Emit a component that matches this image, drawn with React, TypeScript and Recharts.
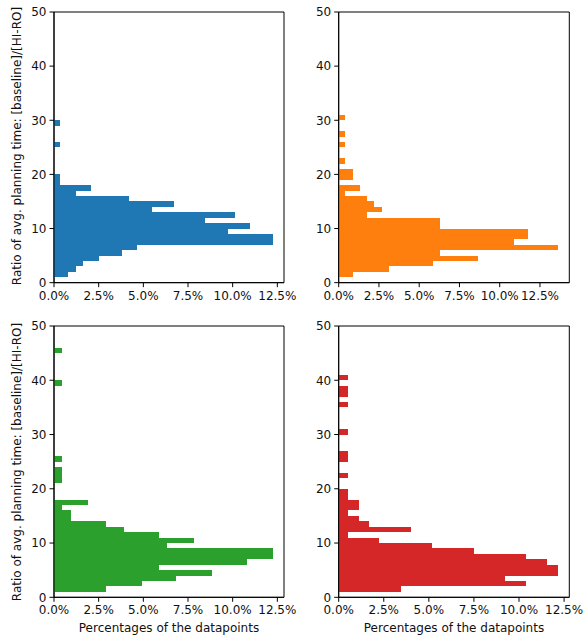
import React from 'react';
import { BarChart, Bar, XAxis, YAxis, ReferenceArea } from 'recharts';

// Histogram bins: first bin starts at ratio 1, each bin is 1 unit wide
const BIN_START = 1;
const BIN_WIDTH = 1;
const Y_MAX = 50;

const blueValues = [
  0.8, 1.23, 1.64, 2.5, 3.79, 4.63, 12.26, 12.26, 9.72, 10.95, 8.43, 10.11, 5.49, 6.72, 4.18, 1.23, 2.05, 0.35, 0.35,
  0, 0, 0, 0, 0, 0.35, 0, 0, 0, 0.35,
];
const orangeValues = [
  0.89, 3.15, 5.87, 8.63, 6.31, 13.64, 10.87, 11.78, 11.78, 6.31, 6.31, 1.78, 2.66, 2.22, 1.78, 0.39, 1.33, 0, 0.89,
  0.89, 0, 0.39, 0, 0, 0.39, 0, 0.39, 0, 0, 0.39,
];
const greenValues = [
  2.91, 4.91, 6.83, 8.82, 5.9, 10.78, 12.26, 12.26, 6.34, 7.84, 5.9, 3.92, 2.91, 0.95, 0.95, 0.47, 1.92, 0, 0, 0,
  0.47, 0.47, 0.47, 0, 0.47, 0, 0, 0, 0, 0, 0, 0, 0, 0, 0, 0, 0, 0, 0.47, 0, 0, 0, 0, 0, 0.47,
];
const redValues = [
  3.46, 10.41, 9.24, 12.18, 12.18, 11.56, 10.41, 7.52, 5.2, 2.26, 0.54, 4.0, 1.67, 1.13, 0.54, 1.13, 1.13, 0.54, 0.54,
  0, 0, 0.54, 0, 0, 0.54, 0.54, 0, 0, 0, 0.54, 0, 0, 0, 0, 0.54, 0, 0.54, 0.54, 0, 0.54,
];

const xTicks = [0, 2.5, 5, 7.5, 10, 12.5];
const yTicks = [0, 10, 20, 30, 40, 50];

const Y_LABEL = 'Ratio of avg. planning time: [baseline]/[HI-RO]';
const X_LABEL = 'Percentages of the datapoints';

const FONT = "'DejaVu Sans', sans-serif";

const toData = (values: number[]) =>
  values.map((v, i) => ({ y: BIN_START + i * BIN_WIDTH + BIN_WIDTH / 2, pct: v }));

type PanelProps = {
  values: number[];
  color: string;
  left: number;
  top: number;
  width: number;
  height: number;
  margin: { top: number; right: number; bottom: number; left: number };
  yAxisWidth: number;
  xAxisHeight: number;
};

const tickStyle = { fontSize: 12, fill: '#111', fontFamily: FONT };

function Panel({ values, color, left, top, width, height, margin, yAxisWidth, xAxisHeight }: PanelProps) {
  const data = toData(values);
  const plotHeight = height - margin.top - margin.bottom - xAxisHeight;
  const barPx = (plotHeight / Y_MAX) * BIN_WIDTH - 0.002;
  return (
    <div style={{ position: 'absolute', left, top, width, height }}>
      <BarChart
        width={width}
        height={height}
        data={data}
        layout="vertical"
        margin={margin}
        barCategoryGap={0}
        barGap={0}
      >
        <XAxis
          type="number"
          domain={[0, (max: number) => max * 1.05]}
          ticks={xTicks}
          interval={0}
          tickFormatter={(v: number) => `${v.toFixed(1)}%`}
          tick={tickStyle}
          tickSize={4.5}
          tickMargin={4}
          height={xAxisHeight}
          stroke="#000"
          axisLine={{ stroke: '#000', strokeWidth: 1 }}
          tickLine={{ stroke: '#000', strokeWidth: 1 }}
        />
        <YAxis
          type="number"
          dataKey="y"
          domain={[0, Y_MAX]}
          ticks={yTicks}
          interval={0}
          reversed
          tick={tickStyle}
          tickSize={4.5}
          tickMargin={3}
          width={yAxisWidth}
          stroke="#000"
          axisLine={{ stroke: '#000', strokeWidth: 1 }}
          tickLine={{ stroke: '#000', strokeWidth: 1 }}
        />
        <Bar
          dataKey="pct"
          fill={color}
          barSize={barPx}
          shapeRendering="crispEdges"
          isAnimationActive={false}
        />
        <ReferenceArea y1={0} y2={Y_MAX} fill="none" stroke="#000" strokeWidth={1} fillOpacity={0} />
      </BarChart>
    </div>
  );
}

const textStyle: React.CSSProperties = {
  position: 'absolute',
  fontFamily: FONT,
  fontSize: 12,
  lineHeight: '14px',
  color: '#111',
  whiteSpace: 'nowrap',
  textAlign: 'center',
};

export default function App() {
  return (
    <div style={{ position: 'absolute', left: 0, top: 0, width: 584, height: 639, background: '#fff', overflow: 'hidden' }}>
      <Panel
        values={blueValues}
        color="#1f77b4"
        left={0}
        top={0}
        width={310}
        height={310}
        margin={{ top: 12, right: 26, bottom: 0, left: 0 }}
        yAxisWidth={54}
        xAxisHeight={27.33}
      />
      <Panel
        values={orangeValues}
        color="#ff7f0e"
        left={290}
        top={0}
        width={294}
        height={310}
        margin={{ top: 12, right: 14.7, bottom: 0, left: 0 }}
        yAxisWidth={48.7}
        xAxisHeight={27.33}
      />
      <Panel
        values={greenValues}
        color="#2ca02c"
        left={0}
        top={310}
        width={310}
        height={329}
        margin={{ top: 16, right: 26, bottom: 0, left: 0 }}
        yAxisWidth={54}
        xAxisHeight={41.7}
      />
      <Panel
        values={redValues}
        color="#d62728"
        left={290}
        top={310}
        width={294}
        height={329}
        margin={{ top: 16, right: 14.7, bottom: 0, left: 0 }}
        yAxisWidth={48.7}
        xAxisHeight={41.7}
      />
      <div style={{ ...textStyle, left: 17.2 - 200, top: 146.3 - 7, width: 400, height: 14, transform: 'rotate(-90deg)' }}>
        {Y_LABEL}
      </div>
      <div style={{ ...textStyle, left: 17.2 - 200, top: 461.7 - 7, width: 400, height: 14, transform: 'rotate(-90deg)' }}>
        {Y_LABEL}
      </div>
      <div style={{ ...textStyle, left: 169 - 150, top: 620.5, width: 300, height: 14 }}>{X_LABEL}</div>
      <div style={{ ...textStyle, left: 454 - 150, top: 620.5, width: 300, height: 14 }}>{X_LABEL}</div>
    </div>
  );
}
